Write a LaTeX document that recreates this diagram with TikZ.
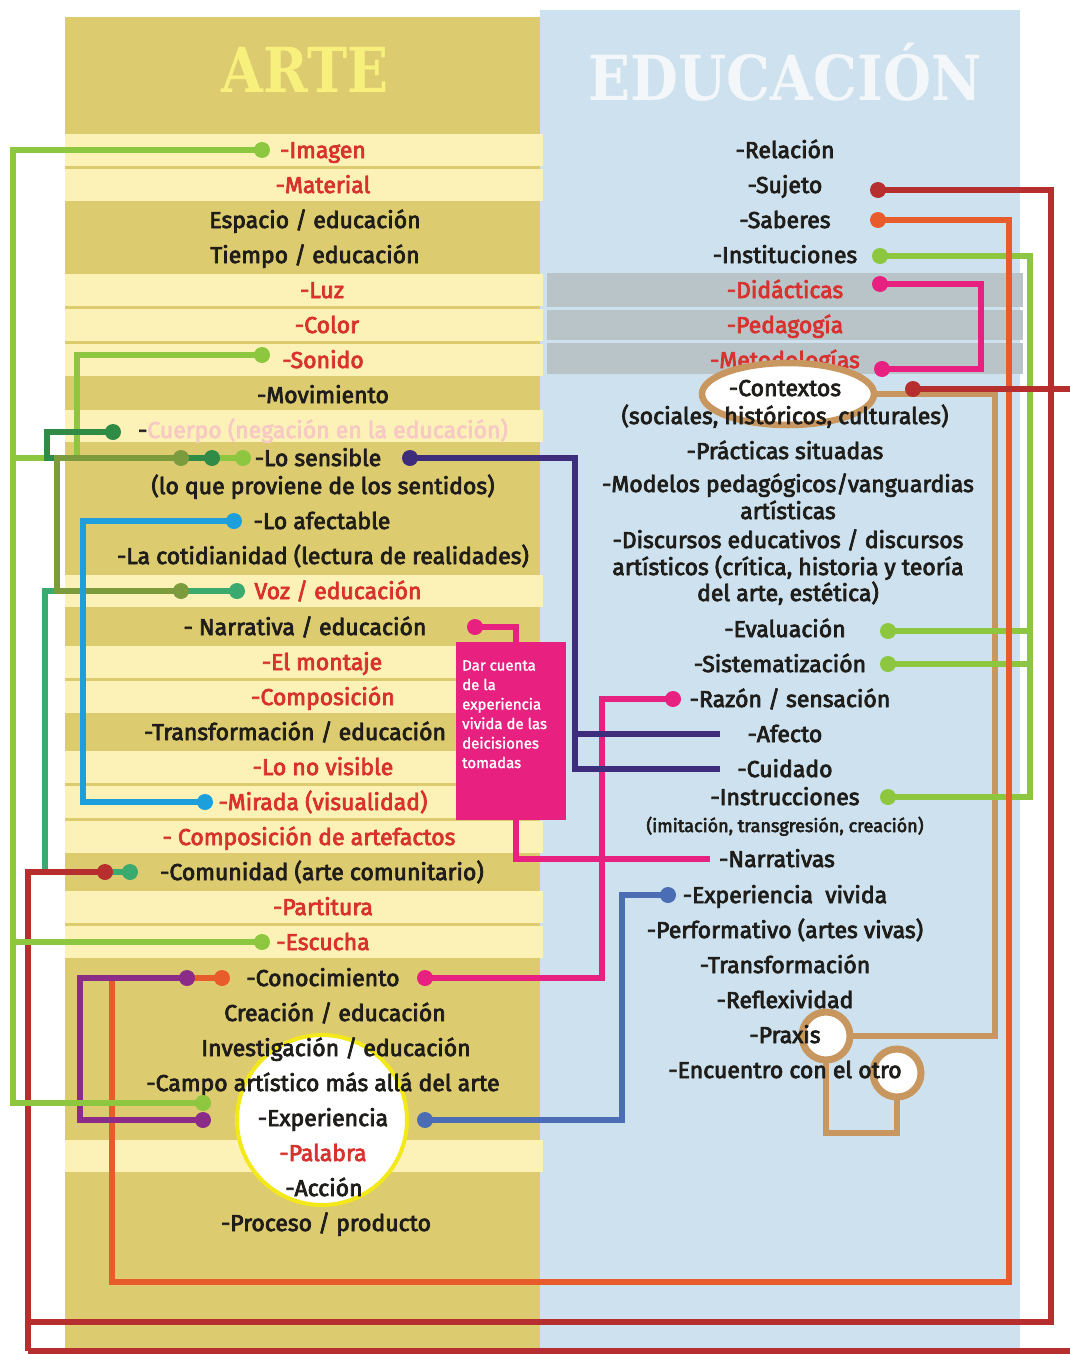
\documentclass[tikz,border=0pt]{standalone}
\usepackage{graphicx}
\usepackage{fontspec}
\setmainfont{Fira Sans}[FakeBold=3.2]
\newfontfamily\headfont{DejaVu Serif}
\newfontfamily\notefont{Fira Sans}[FakeBold=1.6]
\newcommand\rowfont{\fontsize{23}{26}\selectfont}

\definecolor{panTan}{HTML}{DDCB70}
\definecolor{panLight}{HTML}{FCF2B8}
\definecolor{panBlue}{HTML}{CDE2EE}
\definecolor{panGray}{HTML}{B9C4C8}
\definecolor{headYellow}{HTML}{F8F07C}
\definecolor{headWhite}{HTML}{F3F7FA}
\definecolor{txtRed}{HTML}{D8322F}
\definecolor{txtDark}{HTML}{1F1D1A}
\definecolor{txtPink}{HTML}{F7C9C4}
\definecolor{cLgreen}{HTML}{8DC63F}
\definecolor{cDgreen}{HTML}{2F8B45}
\definecolor{cOlive}{HTML}{7C9B3C}
\definecolor{cTeal}{HTML}{3AAA6E}
\definecolor{cCyan}{HTML}{1C9FDB}
\definecolor{cIndigo}{HTML}{3E2C7C}
\definecolor{cPink}{HTML}{E8207F}
\definecolor{cRed}{HTML}{B72E2E}
\definecolor{cOrange}{HTML}{E85B2A}
\definecolor{cPurple}{HTML}{8A2C88}
\definecolor{cSteel}{HTML}{4A6DB3}
\definecolor{cTan}{HTML}{C8965F}
\definecolor{ringYellow}{HTML}{F2E81A}

\begin{document}
\begin{tikzpicture}[x=1pt,y=-1pt,
  lbl/.style={font=\rowfont, text=txtDark, inner sep=0pt, anchor=base},
  rlbl/.style={lbl, text=txtRed},
  wire/.style={draw=#1, line width=6.5pt},
  dot/.style={circle, fill=#1, minimum size=16pt, inner sep=0pt},
  lightrow/.style={fill=panLight},
  grayrow/.style={fill=panGray}]

\useasboundingbox (0,0) rectangle (1070,1354);
\clip (0,0) rectangle (1070,1354);
\fill[white] (0,0) rectangle (1070,1354);

% panels
\fill[panTan] (65,17) rectangle (541,1354);
\fill[panBlue] (540,10) rectangle (1020,1354);

% light rows of the ARTE column
\foreach \c in {150,185,290,325,360,426,591,662,697,767,802,837,907,942,1156}
  \fill[lightrow] (65,\c-16) rectangle (543,\c+16);

% gray rows of the EDUCACION column
\fill[grayrow] (547,273) rectangle (1023,307);
\fill[grayrow] (547,310) rectangle (1023,340);
\fill[grayrow] (547,343) rectangle (1023,374);

% titles
\node[font=\headfont\bfseries\fontsize{62}{62}\selectfont, text=headYellow, inner sep=0pt] (tArte) at (305,70) {\scalebox{0.87}[1]{ARTE}};
\node[font=\headfont\bfseries\fontsize{62}{62}\selectfont, text=headWhite, inner sep=0pt] (tEdu) at (785,72) {\scalebox{0.89}[1]{EDUCACIÓN}};

% circles behind the text
\draw[ringYellow, line width=4pt, fill=white] (322,1120) circle[radius=85pt];
\draw[cTan, line width=7pt, fill=white] (826,1036) circle[radius=24pt];
\draw[cTan, line width=7pt, fill=white] (897,1073) circle[radius=24pt];
\draw[cTan, line width=6.5pt] (826,1060) -- (826,1133) -- (897,1133) -- (897,1097);

% ARTE column
\node[rlbl] (imagen) at (323,158) {-Imagen};
\node[rlbl] (material) at (323,193) {-Material};
\node[lbl] (espacio) at (315,228) {Espacio / educación};
\node[lbl] (tiempo) at (315,263) {Tiempo / educación};
\node[rlbl] (luz) at (322,298) {-Luz};
\node[rlbl] (color) at (327,333) {-Color};
\node[rlbl] (sonido) at (323,368) {-Sonido};
\node[lbl] (movimiento) at (323,403) {-Movimiento};
\node[lbl] (cuerpo) at (323,438) {-\textcolor{txtPink}{Cuerpo (negación en la educación)}};
\node[lbl] (sensible) at (318,466) {-Lo sensible};
\node[lbl] (sentidos) at (323,494) {(lo que proviene de los sentidos)};
\node[lbl] (afectable) at (322,529) {-Lo afectable};
\node[lbl] (cotidiano) at (323,564) {-La cotidianidad (lectura de realidades)};
\node[rlbl] (voz) at (338,599) {Voz / educación};
\node[lbl] (narrativa) at (305,635) {- Narrativa / educación};
\node[rlbl] (montaje) at (322,670) {-El montaje};
\node[rlbl] (composicion) at (323,705) {-Composición};
\node[lbl] (transfEdu) at (295,740) {-Transformación / educación};
\node[rlbl] (novisible) at (323,775) {-Lo no visible};
\node[rlbl] (mirada) at (323,810) {-Mirada (visualidad)};
\node[rlbl] (artefactos) at (309,845) {- Composición de artefactos};
\node[lbl] (comunidad) at (322,880) {-Comunidad (arte comunitario)};
\node[rlbl] (partitura) at (323,915) {-Partitura};
\node[rlbl] (escucha) at (323,950) {-Escucha};
\node[lbl] (conocimiento) at (323,986) {-Conocimiento};
\node[lbl] (creacion) at (335,1021) {Creación / educación};
\node[lbl] (investigacion) at (336,1056) {Investigación / educación};
\node[lbl] (campo) at (323,1091) {-Campo artístico más allá del arte};
\node[lbl] (experiencia) at (323,1126) {-Experiencia};
\node[rlbl] (palabra) at (323,1161) {-Palabra};
\node[lbl] (accion) at (324,1196) {-Acción};
\node[lbl] (proceso) at (326,1231) {-Proceso / producto};

% EDUCACION column
\node[lbl] (relacion) at (785,158) {-Relación};
\node[lbl] (sujeto) at (785,193) {-Sujeto};
\node[lbl] (saberes) at (785,228) {-Saberes};
\node[lbl] (instituciones) at (785,263) {-Instituciones};
\node[rlbl] (didacticas) at (785,298) {-Didácticas};
\node[rlbl] (pedagogia) at (785,333) {-Pedagogía};
\node[rlbl] (metodologias) at (785,368) {-Metodologías};
\draw[cTan, line width=6.5pt, fill=white] (788,394) ellipse[x radius=86pt, y radius=31pt];
\node[lbl] (contextos) at (785,396) {-Contextos};
\node[lbl] (sociales) at (785,424) {(sociales, históricos, culturales)};
\node[lbl] (practicas) at (785,459) {-Prácticas situadas};
\node[lbl] (modelos) at (788,492) {-Modelos pedagógicos/vanguardias};
\node[lbl] (modelos2) at (788,519) {artísticas};
\node[lbl] (discursos) at (788,548) {-Discursos educativos / discursos};
\node[lbl] (discursos2) at (788,575) {artísticos (crítica, historia y teoría};
\node[lbl] (discursos3) at (788,601) {del arte, estética)};
\node[lbl] (evaluacion) at (785,637) {-Evaluación};
\node[lbl] (sistematizacion) at (780,672) {-Sistematización};
\node[lbl] (razon) at (790,707) {-Razón / sensación};
\node[lbl] (afecto) at (785,742) {-Afecto};
\node[lbl] (cuidado) at (785,777) {-Cuidado};
\node[lbl] (instrucciones) at (785,805) {-Instrucciones};
\node[lbl, font=\fontsize{18}{20}\selectfont] (imitacion) at (785,832) {(imitación, transgresión, creación)};
\node[lbl] (narrativas) at (777,867) {-Narrativas};
\node[lbl] (vivida) at (785,903) {-Experiencia\ \ vivida};
\node[lbl] (performativo) at (785,938) {-Performativo (artes vivas)};
\node[lbl] (transformacion) at (785,973) {-Transformación};
\node[lbl] (reflexividad) at (785,1008) {-Reflexividad};
\node[lbl] (praxis) at (785,1043) {-Praxis};
\node[lbl] (encuentro) at (785,1078) {-Encuentro con el otro};

% connector end points
\coordinate (pImagen) at (262,150);
\coordinate (pSonido) at (262,355);
\coordinate (pEscucha) at (262,942);
\coordinate (pCampo) at (203,1103);
\coordinate (pSensLG) at (243,458);
\coordinate (pSensDG) at (212,458);
\coordinate (pSensOL) at (181,458);
\coordinate (pCuerpo) at (113,432);
\coordinate (pVozOL) at (181,591);
\coordinate (pVozTE) at (237,591);
\coordinate (pComTE) at (130,872);
\coordinate (pComRD) at (105,872);
\coordinate (pAfect) at (234,521);
\coordinate (pMirada) at (205,802);
\coordinate (pSensIN) at (410,458);
\coordinate (pNarr) at (475,627);
\coordinate (pConPU) at (187,978);
\coordinate (pConOR) at (222,978);
\coordinate (pConPK) at (425,978);
\coordinate (pExpPU) at (203,1120);
\coordinate (pExpBL) at (425,1120);
\coordinate (pSujeto) at (878,190);
\coordinate (pSaberes) at (878,220);
\coordinate (pInst) at (880,256);
\coordinate (pDid) at (880,284);
\coordinate (pMet) at (882,369);
\coordinate (pCtx) at (913,389);
\coordinate (pEval) at (888,631);
\coordinate (pSist) at (888,664);
\coordinate (pInstr) at (888,797);
\coordinate (pRazon) at (673,699);
\coordinate (pVivida) at (668,895);
\coordinate (eAfecto) at (720,734);
\coordinate (eCuidado) at (720,769);
\coordinate (eNarrativas) at (710,859);

% tan link from the contexts ellipse to praxis
\draw[wire=cTan] (875,394) -| (995,1036) -- (850,1036);

% right green bus
\draw[wire=cLgreen] (pInst) -| (1030,797) -- (pInstr);
\draw[wire=cLgreen] (pEval) -- (1030,631);
\draw[wire=cLgreen] (pSist) -- (1030,664);

% community links
\draw[wire=cTeal] (pVozTE) -| (45,872) -- (pComTE);
\draw[wire=cRed] (pComRD) -| (28,1351);

% saberes loop
\draw[wire=cOrange] (pConOR) -| (112,1282) -| (1009,220) -- (pSaberes);
\draw[wire=cPurple] (pConPU) -| (80,1120) -- (pExpPU);

% left green bus
\draw[wire=cLgreen] (pImagen) -| (13,1103) -- (pCampo);
\draw[wire=cLgreen] (13,458) -- (pSensLG);
\draw[wire=cLgreen] (13,942) -- (pEscucha);
\draw[wire=cLgreen] (pSonido) -| (77,458);
\draw[wire=cDgreen] (pCuerpo) -| (47,458) -- (pSensDG);
\draw[wire=cOlive] (pSensOL) -| (57,591) -- (pVozOL);
\draw[wire=cCyan] (pAfect) -| (83,802) -- (pMirada);

% pink links
\draw[wire=cPink] (pConPK) -| (602,699) -- (pRazon);
\draw[wire=cPink] (pNarr) -| (516,650);
\draw[wire=cPink] (516,810) |- (eNarrativas);
\node[fill=cPink, minimum width=110pt, minimum height=178pt, inner sep=0pt] (nota) at (511,731) {};
\node[font=\notefont\fontsize{15}{19.5}\selectfont, text=white, align=left, anchor=north west, inner sep=0pt] (notaTxt) at (462,660) {Dar cuenta\\de la\\experiencia\\vivida de las\\deicisiones\\tomadas};

% affect and care
\draw[wire=cIndigo] (pSensIN) -| (575,769) -- (eCuidado);
\draw[wire=cIndigo] (575,734) -- (eAfecto);

% lived experience
\draw[wire=cSteel] (pExpBL) -| (622,895) -- (pVivida);

% didactics loop
\draw[wire=cPink] (pDid) -| (981,369) -- (pMet);

% outer red loops
\draw[wire=cRed] (pSujeto) -| (1051,1322) -- (28,1322);
\draw[wire=cRed] (pCtx) -| (1085,1351) -- (28,1351);

% dots
\foreach \p/\c in {pImagen/cLgreen, pSonido/cLgreen, pEscucha/cLgreen, pCampo/cLgreen,
  pSensLG/cLgreen, pSensDG/cDgreen, pSensOL/cOlive, pCuerpo/cDgreen, pVozOL/cOlive,
  pVozTE/cTeal, pComTE/cTeal, pComRD/cRed, pAfect/cCyan, pMirada/cCyan, pSensIN/cIndigo,
  pNarr/cPink, pConPU/cPurple, pConOR/cOrange, pConPK/cPink, pExpPU/cPurple, pExpBL/cSteel,
  pSujeto/cRed, pSaberes/cOrange, pInst/cLgreen, pDid/cPink, pMet/cPink, pCtx/cRed,
  pEval/cLgreen, pSist/cLgreen, pInstr/cLgreen, pRazon/cPink, pVivida/cSteel}
  \node[dot=\c] (d\p) at (\p) {};

\end{tikzpicture}
\end{document}
